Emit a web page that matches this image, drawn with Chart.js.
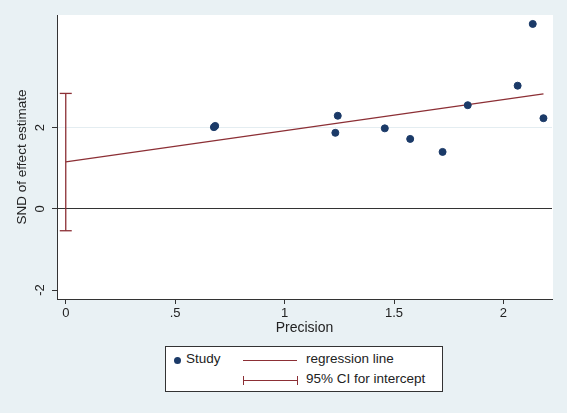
<!DOCTYPE html>
<html>
<head>
<meta charset="utf-8">
<script src="https://cdn.jsdelivr.net/npm/chart.js@4.4.1/dist/chart.umd.min.js"></script>
<style>
    body { margin: 0; background: #e9f1f4; font-family: "Liberation Sans", Arial, sans-serif; }
    #wrap { position: relative; width: 567px; height: 413px; }
    #legend {
        position: absolute; left: 165px; top: 346px; width: 276px; height: 44px;
        background: #fff; border: 1px solid #333; font-size: 13.5px; color: #222;
    }
    #legend .row { position: absolute; left: 0; height: 18px; line-height: 18px; }
    .dot { position: absolute; width: 7px; height: 7px; border-radius: 50%; background: #1b3a68; }
    .hline { position: absolute; height: 0; border-top: 1px solid #8c2f35; }
    .cap { position: absolute; width: 0; height: 9px; border-left: 1px solid #8c2f35; }
    .lbl { position: absolute; white-space: nowrap; }
</style>
</head>
<body>
<div id="wrap">
    <canvas id="chart" width="567" height="413"></canvas>
    <div id="legend">
        <div class="dot" style="left:8px; top:10px;"></div>
        <div class="lbl" style="left:20px; top:4px;">Study</div>
        <div class="hline" style="left:77px; top:13px; width:54px;"></div>
        <div class="lbl" style="left:140px; top:4px;">regression line</div>
        <div class="cap" style="left:77px; top:29px;"></div>
        <div class="hline" style="left:77px; top:33px; width:54px;"></div>
        <div class="cap" style="left:131px; top:29px;"></div>
        <div class="lbl" style="left:140px; top:24px;">95% CI for intercept</div>
    </div>
</div>
<script>
// data
const studyX = [0.677, 0.683, 1.232, 1.243, 1.458, 1.574, 1.722, 1.837, 2.065, 2.134, 2.183];
const studyY = [2.01, 2.04, 1.87, 2.29, 1.98, 1.72, 1.40, 2.55, 3.03, 4.55, 2.23];

// regression line end points
const regX = [0, 2.183];
const regY = [1.155, 2.83];

// 95% CI for intercept
const ciX = [0, 0];
const ciY = [-0.54, 2.84];

const xTickValues = [0, 0.5, 1, 1.5, 2];
const xTickLabels = ['0', '.5', '1', '1.5', '2'];
const yTickValues = [-2, 0, 2];
const yTickLabels = ['-2', '0', '2'];

const toPoints = (xs, ys) => xs.map((x, i) => ({ x: x, y: ys[i] }));

Chart.defaults.font.family = '"Liberation Sans", Arial, sans-serif';
Chart.defaults.color = '#222';

// white plot area + rotated y tick labels
const plotBits = {
    id: 'plotBits',
    beforeDraw(chart) {
        const { ctx, chartArea } = chart;
        ctx.save();
        ctx.fillStyle = '#fff';
        ctx.fillRect(chartArea.left, chartArea.top, chartArea.right - chartArea.left + 1, chartArea.bottom - chartArea.top);
        ctx.restore();
    },
    afterDraw(chart) {
        const { ctx } = chart;
        const yScale = chart.scales.y;
        ctx.save();
        ctx.font = '13px "Liberation Sans", Arial, sans-serif';
        ctx.fillStyle = '#222';
        ctx.textAlign = 'center';
        ctx.textBaseline = 'middle';
        yTickValues.forEach((v, i) => {
            const py = yScale.getPixelForValue(v);
            ctx.save();
            ctx.translate(40, py);
            ctx.rotate(-Math.PI / 2);
            ctx.fillText(yTickLabels[i], 0, 0);
            ctx.restore();
        });
        ctx.restore();
    }
};

const ctx = document.getElementById('chart').getContext('2d');
const chart = new Chart(ctx, {
    type: 'scatter',
    data: {
        datasets: [
            {
                label: 'Study',
                data: toPoints(studyX, studyY),
                backgroundColor: '#1b3a68',
                borderColor: '#1b3a68',
                pointRadius: 3.5,
                order: 1
            },
            {
                label: 'regression line',
                type: 'line',
                data: toPoints(regX, regY),
                borderColor: '#8c2f35',
                borderWidth: 1.3,
                pointRadius: 0,
                fill: false,
                order: 2
            },
            {
                label: '95% CI for intercept',
                type: 'line',
                data: toPoints(ciX, ciY),
                borderColor: '#8c2f35',
                borderWidth: 1.3,
                pointStyle: 'line',
                pointRadius: 6,
                pointBorderWidth: 1.3,
                pointBorderColor: '#8c2f35',
                fill: false,
                order: 3
            }
        ]
    },
    options: {
        responsive: false,
        animation: false,
        layout: { padding: { left: 0, top: 15, right: 15, bottom: 74 } },
        plugins: {
            legend: { display: false },
            tooltip: { enabled: false }
        },
        scales: {
            x: {
                type: 'linear',
                min: -0.04,
                max: 2.222,
                afterBuildTicks: (scale) => { scale.ticks = xTickValues.map(v => ({ value: v })); },
                afterFit: (scale) => { scale.height = 40; },
                ticks: {
                    font: { size: 13 },
                    padding: 2,
                    maxRotation: 0,
                    callback: (value) => xTickLabels[xTickValues.indexOf(value)]
                },
                grid: { drawOnChartArea: false, tickLength: 5, color: '#333' },
                border: { color: '#333', width: 1 },
                title: { display: true, text: 'Precision', font: { size: 14 }, padding: { top: 0, bottom: 2 } }
            },
            y: {
                type: 'linear',
                min: -2.22,
                max: 4.77,
                afterBuildTicks: (scale) => { scale.ticks = yTickValues.map(v => ({ value: v })); },
                afterFit: (scale) => { scale.width = 57; },
                ticks: { display: false },
                grid: {
                    tickLength: 5,
                    tickColor: '#333',
                    color: (c) => {
                        if (c.tick && c.tick.value === 0) return '#333';
                        if (c.tick && c.tick.value === 2) return '#e4edf1';
                        return 'rgba(0,0,0,0)';
                    }
                },
                border: { color: '#333', width: 1 },
                title: { display: true, text: 'SND of effect estimate', font: { size: 13.5 }, padding: { top: 14, bottom: 0 } }
            }
        }
    },
    plugins: [plotBits]
});
</script>
</body>
</html>
